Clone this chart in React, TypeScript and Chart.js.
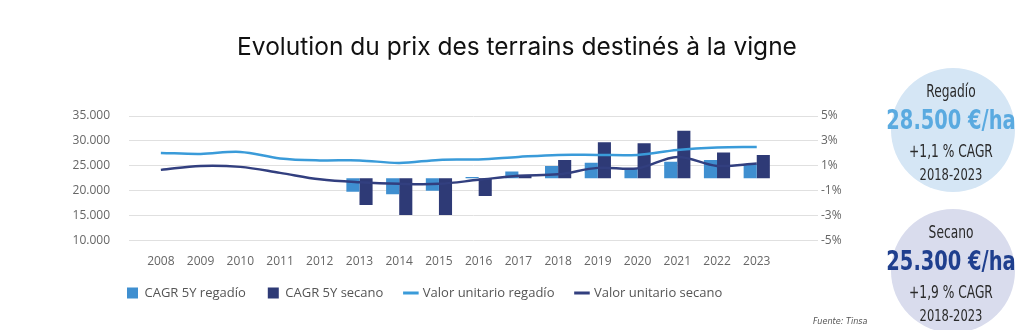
import React, { useEffect, useRef } from 'react';
import { Chart, registerables } from 'chart.js';

Chart.register(...registerables);

const years = [2008, 2009, 2010, 2011, 2012, 2013, 2014, 2015, 2016, 2017, 2018, 2019, 2020, 2021, 2022, 2023];
const cagrRegadio = [null, null, null, null, null, -1.07, -1.28, -0.99, 0.1, 0.55, 0.99, 1.25, 0.75, 1.33, 1.47, 1.15];
const cagrSecano = [null, null, null, null, null, -2.14, -2.94, -2.94, -1.42, 0.2, 1.47, 2.89, 2.81, 3.82, 2.08, 1.87];
const valorRegadio = [27600, 27400, 27800, 26500, 26100, 26100, 25600, 26200, 26300, 26800, 27200, 27200, 27200, 28200, 28700, 28800];
const valorSecano = [24200, 25000, 24800, 23600, 22300, 21700, 21400, 21400, 22200, 23000, 23300, 24600, 24500, 26800, 25000, 25500];
const leftTicks = [10000, 15000, 20000, 25000, 30000, 35000];
const rightTicks = [-5, -3, -1, 1, 3, 5];
const seriesLabels = ['CAGR 5Y regadío', 'CAGR 5Y secano', 'Valor unitario regadío', 'Valor unitario secano'];

const LIGHT_BAR = '#3f8fd0';
const DARK_BAR = '#2e3a76';
const LIGHT_LINE = '#3a9bd9';
const DARK_LINE = '#323f7f';

const fmtThousands = (v: number) => String(v).replace(/\B(?=(\d{3})+(?!\d))/g, '.');
const toPoints = (arr: (number | null)[]) => years.map((yr, i) => ({ x: yr, y: arr[i] }));

const tickFont = { family: 'Open Sans', size: 12 };
const LEGEND_START_X = 127;
const LEGEND_CENTER_Y = 293;

const legendShift = {
  id: 'legendShift',
  afterLayout(chart: any) {
    const lg = chart.legend;
    if (!lg) return;
    const pad = lg.options.labels.padding;
    const fs = lg.options.labels.font.size;
    const dx = LEGEND_START_X - (lg.left + pad);
    const dy = LEGEND_CENTER_Y - (lg.top + pad + fs / 2);
    lg.left += dx;
    lg.right += dx;
    lg.top += dy;
    lg.bottom += dy;
  },
};

function ChartBox() {
  const ref = useRef<HTMLCanvasElement | null>(null);
  useEffect(() => {
    if (!ref.current) return;
    const chart = new Chart(ref.current, {
      type: 'bar',
      data: {
        datasets: [
          {
            type: 'bar',
            label: seriesLabels[0],
            data: toPoints(cagrRegadio),
            backgroundColor: LIGHT_BAR,
            yAxisID: 'yR',
            order: 2,
            categoryPercentage: 0.66,
            barPercentage: 1,
          },
          {
            type: 'bar',
            label: seriesLabels[1],
            data: toPoints(cagrSecano),
            backgroundColor: DARK_BAR,
            yAxisID: 'yR',
            order: 2,
            categoryPercentage: 0.66,
            barPercentage: 1,
          },
          {
            type: 'line',
            label: seriesLabels[2],
            data: toPoints(valorRegadio),
            borderColor: LIGHT_LINE,
            backgroundColor: LIGHT_LINE,
            borderWidth: 2.5,
            pointRadius: 0,
            tension: 0.35,
            yAxisID: 'yL',
            order: 1,
          },
          {
            type: 'line',
            label: seriesLabels[3],
            data: toPoints(valorSecano),
            borderColor: DARK_LINE,
            backgroundColor: DARK_LINE,
            borderWidth: 2.5,
            pointRadius: 0,
            tension: 0.35,
            yAxisID: 'yL',
            order: 1,
          },
        ],
      } as any,
      options: {
        responsive: false,
        animation: false,
        layout: { padding: { left: 10, right: 0, top: 0, bottom: 14.3 } },
        scales: {
          x: {
            type: 'linear',
            min: 2007.74,
            max: 2024,
            grid: { display: false, drawTicks: false },
            border: { display: false },
            afterBuildTicks: (axis: any) => {
              axis.ticks = years.map((v) => ({ value: v }));
            },
            afterFit: (scale: any) => {
              scale.height = 30;
            },
            ticks: {
              padding: 14,
              color: '#666',
              font: tickFont,
              maxRotation: 0,
              autoSkip: false,
              callback: (v: any) => String(v),
            },
          },
          yL: {
            type: 'linear',
            position: 'left',
            min: 10000,
            max: 35000,
            afterBuildTicks: (axis: any) => {
              axis.ticks = leftTicks.map((v) => ({ value: v }));
            },
            afterFit: (scale: any) => {
              scale.width = 119;
            },
            grid: { color: '#e0e0e0', lineWidth: 1, drawTicks: false },
            border: { display: false },
            ticks: {
              padding: 19,
              color: '#666',
              font: tickFont,
              callback: (v: any) => fmtThousands(Number(v)),
            },
          },
          yR: {
            type: 'linear',
            position: 'right',
            min: -5,
            max: 5,
            afterBuildTicks: (axis: any) => {
              axis.ticks = rightTicks.map((v) => ({ value: v }));
            },
            afterFit: (scale: any) => {
              scale.width = 206;
            },
            grid: { display: false, drawTicks: false },
            border: { display: false },
            ticks: {
              padding: 3,
              crossAlign: 'near',
              color: '#666',
              font: tickFont,
              callback: (v: any) => `${v}%`,
            },
          },
        },
        plugins: {
          title: {
            display: true,
            text: 'Evolution du prix des terrains destinés à la vigne',
            color: '#111',
            font: { family: 'Inter', size: 24.5, weight: 'normal' },
            padding: { top: 32.5, bottom: 54.1 },
          },
          legend: {
            display: true,
            position: 'bottom',
            align: 'start',
            labels: {
              usePointStyle: true,
              boxWidth: 11,
              boxHeight: 11,
              padding: 22,
              color: '#555',
              font: { family: 'Open Sans', size: 13 },
              generateLabels: (ch: any) =>
                ch.data.datasets.map((ds: any, i: number) => {
                  const isLine = ds.type === 'line';
                  return {
                    text: ds.label,
                    fillStyle: isLine ? ds.borderColor : ds.backgroundColor,
                    strokeStyle: isLine ? ds.borderColor : ds.backgroundColor,
                    lineWidth: isLine ? 3 : 0,
                    pointStyle: isLine ? 'line' : 'rect',
                    hidden: false,
                    datasetIndex: i,
                    fontColor: '#555',
                  };
                }),
            },
          },
          tooltip: { enabled: false },
        },
      } as any,
      plugins: [legendShift],
    });
    return () => chart.destroy();
  }, []);
  return <canvas ref={ref} width={1024} height={330} style={{ position: 'absolute', left: 0, top: 0 }} />;
}

const circleFont = '"Liberation Sans Narrow", "DejaVu Sans Condensed", "Arial Narrow", sans-serif';

function Circle(props: { top: number; bg: string; name: string; value: string; valueColor: string; cagr: string }) {
  const { top, bg, name, value, valueColor, cagr } = props;
  const line = (t: number, text: string, size: number, color: string, weight: number) => (
    <div
      style={{
        position: 'absolute',
        left: 851,
        width: 200,
        top: t - size * 0.6,
        height: size * 1.2,
        lineHeight: `${size * 1.2}px`,
        textAlign: 'center',
        fontFamily: circleFont,
        fontSize: size,
        fontWeight: weight,
        color,
        whiteSpace: 'nowrap',
        transform: 'scaleX(0.8)',
      }}
    >
      {text}
    </div>
  );
  return (
    <>
      <div
        style={{
          position: 'absolute',
          left: 891,
          top,
          width: 124,
          height: 124,
          borderRadius: '50%',
          background: bg,
        }}
      />
      {line(top + 23, name, 17, '#2a2a2a', 400)}
      {line(top + 52, value, 27, valueColor, 700)}
      {line(top + 83, cagr, 17, '#2a2a2a', 400)}
      {line(top + 107, '2018-2023', 16, '#2a2a2a', 400)}
    </>
  );
}

export default function App() {
  return (
    <div
      style={{
        position: 'fixed',
        left: 0,
        top: 0,
        width: 1024,
        height: 330,
        overflow: 'hidden',
        background: '#fff',
      }}
    >
      <ChartBox />
      <Circle top={68} bg="#d5e6f5" name="Regadío" value="28.500 €/ha" valueColor="#5aaae0" cagr="+1,1 % CAGR" />
      <Circle top={209} bg="#d9dced" name="Secano" value="25.300 €/ha" valueColor="#1f3f8e" cagr="+1,9 % CAGR" />
      <div
        style={{
          position: 'absolute',
          left: 813,
          top: 316,
          fontFamily: circleFont,
          fontStyle: 'italic',
          fontSize: 9,
          color: '#555',
          whiteSpace: 'nowrap',
        }}
      >
        Fuente: Tinsa
      </div>
    </div>
  );
}
